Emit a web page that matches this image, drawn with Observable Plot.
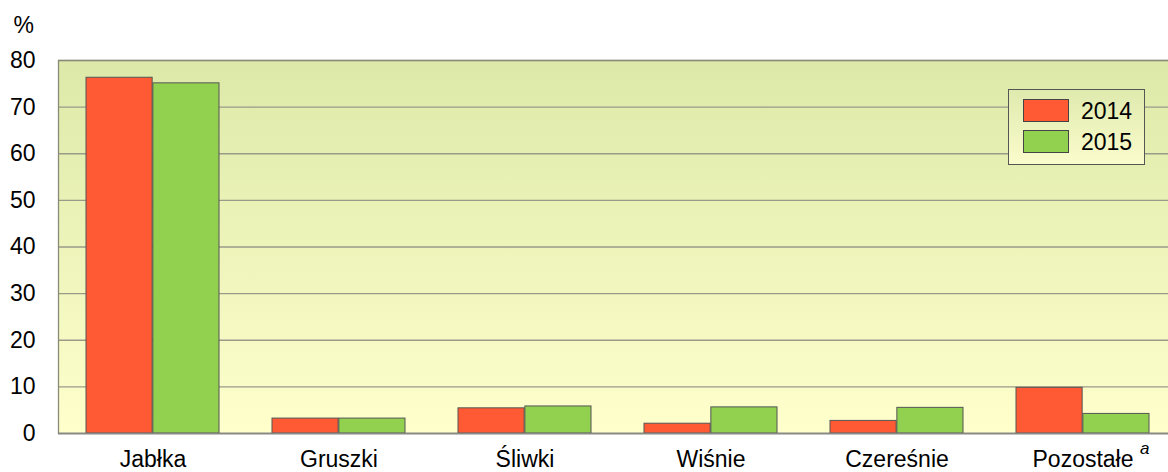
<!DOCTYPE html>
<html><head><meta charset="utf-8">
<script src="https://cdn.jsdelivr.net/npm/d3@7"></script>
<script src="https://cdn.jsdelivr.net/npm/@observablehq/plot@0.6"></script>
<style>
html,body{margin:0;padding:0;background:#fff;overflow:hidden;}
#wrap{position:relative;width:1168px;height:472px;overflow:hidden;font-family:"Liberation Sans",Arial,sans-serif;}
#wrap svg{max-width:none !important;height:472px !important;width:1178px !important;display:block;}
#legend{position:absolute;left:1008px;top:89px;width:135px;height:74px;border:1px solid #555;
  background:linear-gradient(#dfeaae,#fbfccc);}
.li{position:absolute;left:14px;width:44px;height:21px;border:1px solid #444;}
.lt{position:absolute;left:72px;font-size:23px;line-height:23px;color:#000;}
</style></head>
<body><div id="wrap"></div>
<script>
const categories = ["Jabłka","Gruszki","Śliwki","Wiśnie","Czereśnie","Pozostałe"];
const years = ["2014","2015"];
const v2014 = [76.3, 3.2, 5.4, 2.1, 2.7, 9.8];
const v2015 = [75.1, 3.2, 5.8, 5.6, 5.5, 4.2];
const yTicks = [0,10,20,30,40,50,60,70,80];
const colors = ["#ff5a33","#92d050"];

const data = [];
categories.forEach((c,i)=>{
  data.push({cat:c, year:years[0], value:v2014[i]});
  data.push({cat:c, year:years[1], value:v2015[i]});
});

const W = 1178, H = 472, ML = 58, MT = 60, MB = 39, MR = 0;

const bg = (index, scales, values, dims) => {
  const g = d3.create("svg:g");
  const lg = g.append("defs").append("linearGradient").attr("id","bgGrad")
    .attr("x1",0).attr("y1",0).attr("x2",0).attr("y2",1);
  lg.append("stop").attr("offset","0%").attr("stop-color","#dce9a8");
  lg.append("stop").attr("offset","100%").attr("stop-color","#ffffcc");
  g.append("rect").attr("x",dims.marginLeft).attr("y",dims.marginTop)
    .attr("width",dims.width-dims.marginLeft-dims.marginRight)
    .attr("height",dims.height-dims.marginTop-dims.marginBottom)
    .attr("fill","url(#bgGrad)");
  return g.node();
};

const half = 66.85;
const chart = Plot.plot({
  width: W, height: H,
  marginLeft: ML, marginRight: MR, marginTop: MT, marginBottom: MB,
  style: {fontFamily: '"Liberation Sans", Arial, sans-serif', fontSize: "23px", color: "#000", background: "transparent", maxWidth: "none"},
  x: {domain: categories, paddingInner: 0.284, paddingOuter: 0.142, label: null, tickSize: 0, tickPadding: 17},
  y: {domain: [0,80], ticks: yTicks, label: null, tickSize: 0, tickPadding: 23},
  marks: [
    bg,
    Plot.gridY(yTicks, {stroke: "#9a9a88", strokeOpacity: 1, strokeWidth: 1.3}),
    Plot.frame({stroke: "#8a8a7a", strokeWidth: 1.3}),
    Plot.barY(data.filter(d=>d.year===years[0]), {x:"cat", y:"value", fill: colors[0], stroke:"#555", strokeWidth:1, insetRight: half}),
    Plot.barY(data.filter(d=>d.year===years[1]), {x:"cat", y:"value", fill: colors[1], stroke:"#555", strokeWidth:1, insetLeft: half}),
    Plot.ruleY([0], {stroke: "#888", strokeWidth: 1.5}),
    Plot.text(["%"], {frameAnchor: "top-left", text: d=>d, dx: -45, dy: -28, textAnchor: "start", lineAnchor: "bottom", fontSize: 23}),
    Plot.text([{cat: categories[5]}], {x: "cat", frameAnchor: "bottom", y: () => 0, text: () => "a", dx: 57, dy: 20, textAnchor: "start", lineAnchor: "bottom", fontSize: 17, fontStyle: "italic"})
  ]
});
chart.style.maxWidth = "none";
const wrap = document.getElementById("wrap");
wrap.appendChild(chart);

const lg = document.createElement("div");
lg.id = "legend";
years.forEach((y,i)=>{
  const sw = document.createElement("div");
  sw.className = "li"; sw.style.top = (9 + i*31) + "px"; sw.style.background = colors[i];
  const t = document.createElement("div");
  t.className = "lt"; t.style.top = (10 + i*31) + "px"; t.textContent = y;
  lg.appendChild(sw); lg.appendChild(t);
});
wrap.appendChild(lg);
</script></body></html>
